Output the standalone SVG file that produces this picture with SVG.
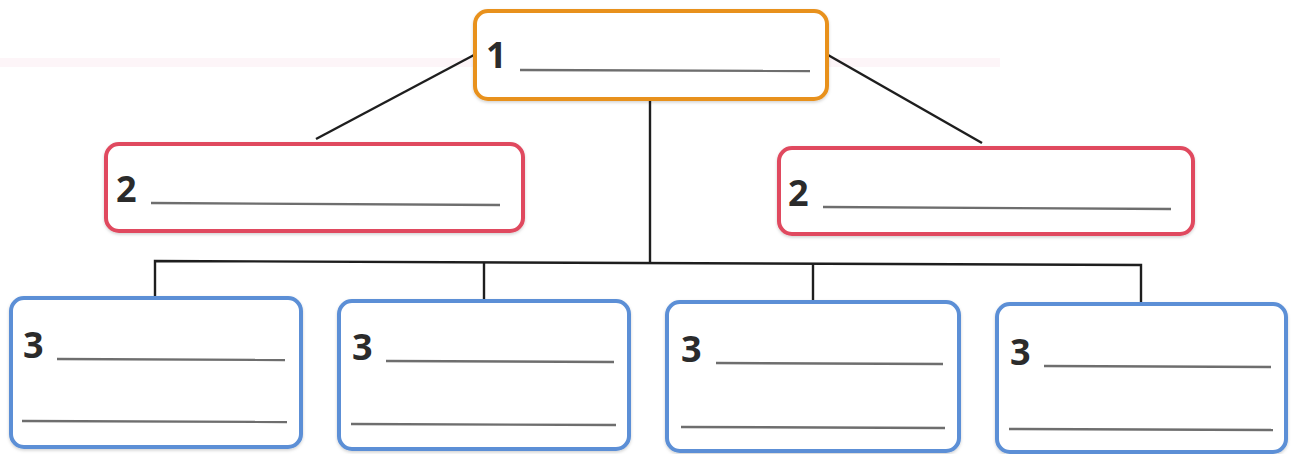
<svg xmlns="http://www.w3.org/2000/svg" width="1293" height="454" viewBox="0 0 1293 454">
  <style>
    .box { fill: #ffffff; stroke-width: 4; }
    .lvl1 { stroke: #E8911F; }
    .lvl2 { stroke: #E04A5E; }
    .lvl3 { stroke: #5B8FD6; }
    .num { font-family: "Open Sans", "Liberation Sans", sans-serif; font-weight: bold; fill: #2b2b2b; font-size: 36px; }
    .blank { stroke: #6e6e6e; stroke-width: 2.4; }
    .conn { stroke: #1e1e1e; stroke-width: 2.4; fill: none; }
  </style>
  <defs>
    <filter id="soft" x="-5%" y="-5%" width="110%" height="115%">
      <feDropShadow dx="0" dy="1.5" stdDeviation="1.5" flood-color="#000000" flood-opacity="0.18"/>
    </filter>
  </defs>

  <rect width="1293" height="454" fill="#ffffff"/>
  <!-- faint tint band across the top -->
  <rect x="0" y="58" width="1000" height="9" fill="#fbeef4" opacity="0.6"/>

  <!-- connectors -->
  <g id="connectors">
    <line class="conn" x1="474" y1="55" x2="316" y2="139"/>
    <line class="conn" x1="828" y1="55" x2="982" y2="143"/>
    <line class="conn" x1="650" y1="100" x2="650" y2="263"/>
    <polyline class="conn" points="155,297 155,261 1141,265 1141,303"/>
    <line class="conn" x1="484" y1="262" x2="484" y2="300"/>
    <line class="conn" x1="813" y1="264" x2="813" y2="301"/>
  </g>

  <g id="node-1">
    <rect class="box lvl1" x="475" y="11" width="352" height="88" rx="13" filter="url(#soft)"/>
    <text class="num" x="486" y="68">1</text>
    <line class="blank" x1="520" y1="70" x2="810" y2="71"/>
  </g>

  <g id="node-2a">
    <rect class="box lvl2" x="106" y="144" width="417" height="87" rx="13" filter="url(#soft)"/>
    <text class="num" x="116" y="202">2</text>
    <line class="blank" x1="151" y1="203" x2="500" y2="205"/>
  </g>

  <g id="node-2b">
    <rect class="box lvl2" x="779" y="148" width="414" height="86" rx="13" filter="url(#soft)"/>
    <text class="num" x="788" y="206">2</text>
    <line class="blank" x1="823" y1="207" x2="1171" y2="209"/>
  </g>

  <g id="node-3a">
    <rect class="box lvl3" x="11" y="298" width="290" height="149" rx="13" filter="url(#soft)"/>
    <text class="num" x="23" y="358">3</text>
    <line class="blank" x1="57" y1="359" x2="285" y2="360"/>
    <line class="blank" x1="22" y1="421" x2="287" y2="422"/>
  </g>

  <g id="node-3b">
    <rect class="box lvl3" x="339" y="301" width="290" height="148" rx="13" filter="url(#soft)"/>
    <text class="num" x="352" y="360">3</text>
    <line class="blank" x1="386" y1="361" x2="614" y2="362"/>
    <line class="blank" x1="351" y1="424" x2="616" y2="425"/>
  </g>

  <g id="node-3c">
    <rect class="box lvl3" x="667" y="302" width="292" height="149" rx="13" filter="url(#soft)"/>
    <text class="num" x="681" y="362">3</text>
    <line class="blank" x1="716" y1="363" x2="943" y2="364"/>
    <line class="blank" x1="681" y1="427" x2="945" y2="428"/>
  </g>

  <g id="node-3d">
    <rect class="box lvl3" x="997" y="304" width="289" height="148" rx="13" filter="url(#soft)"/>
    <text class="num" x="1010" y="365">3</text>
    <line class="blank" x1="1044" y1="366" x2="1271" y2="367"/>
    <line class="blank" x1="1009" y1="429" x2="1273" y2="430"/>
  </g>
</svg>
